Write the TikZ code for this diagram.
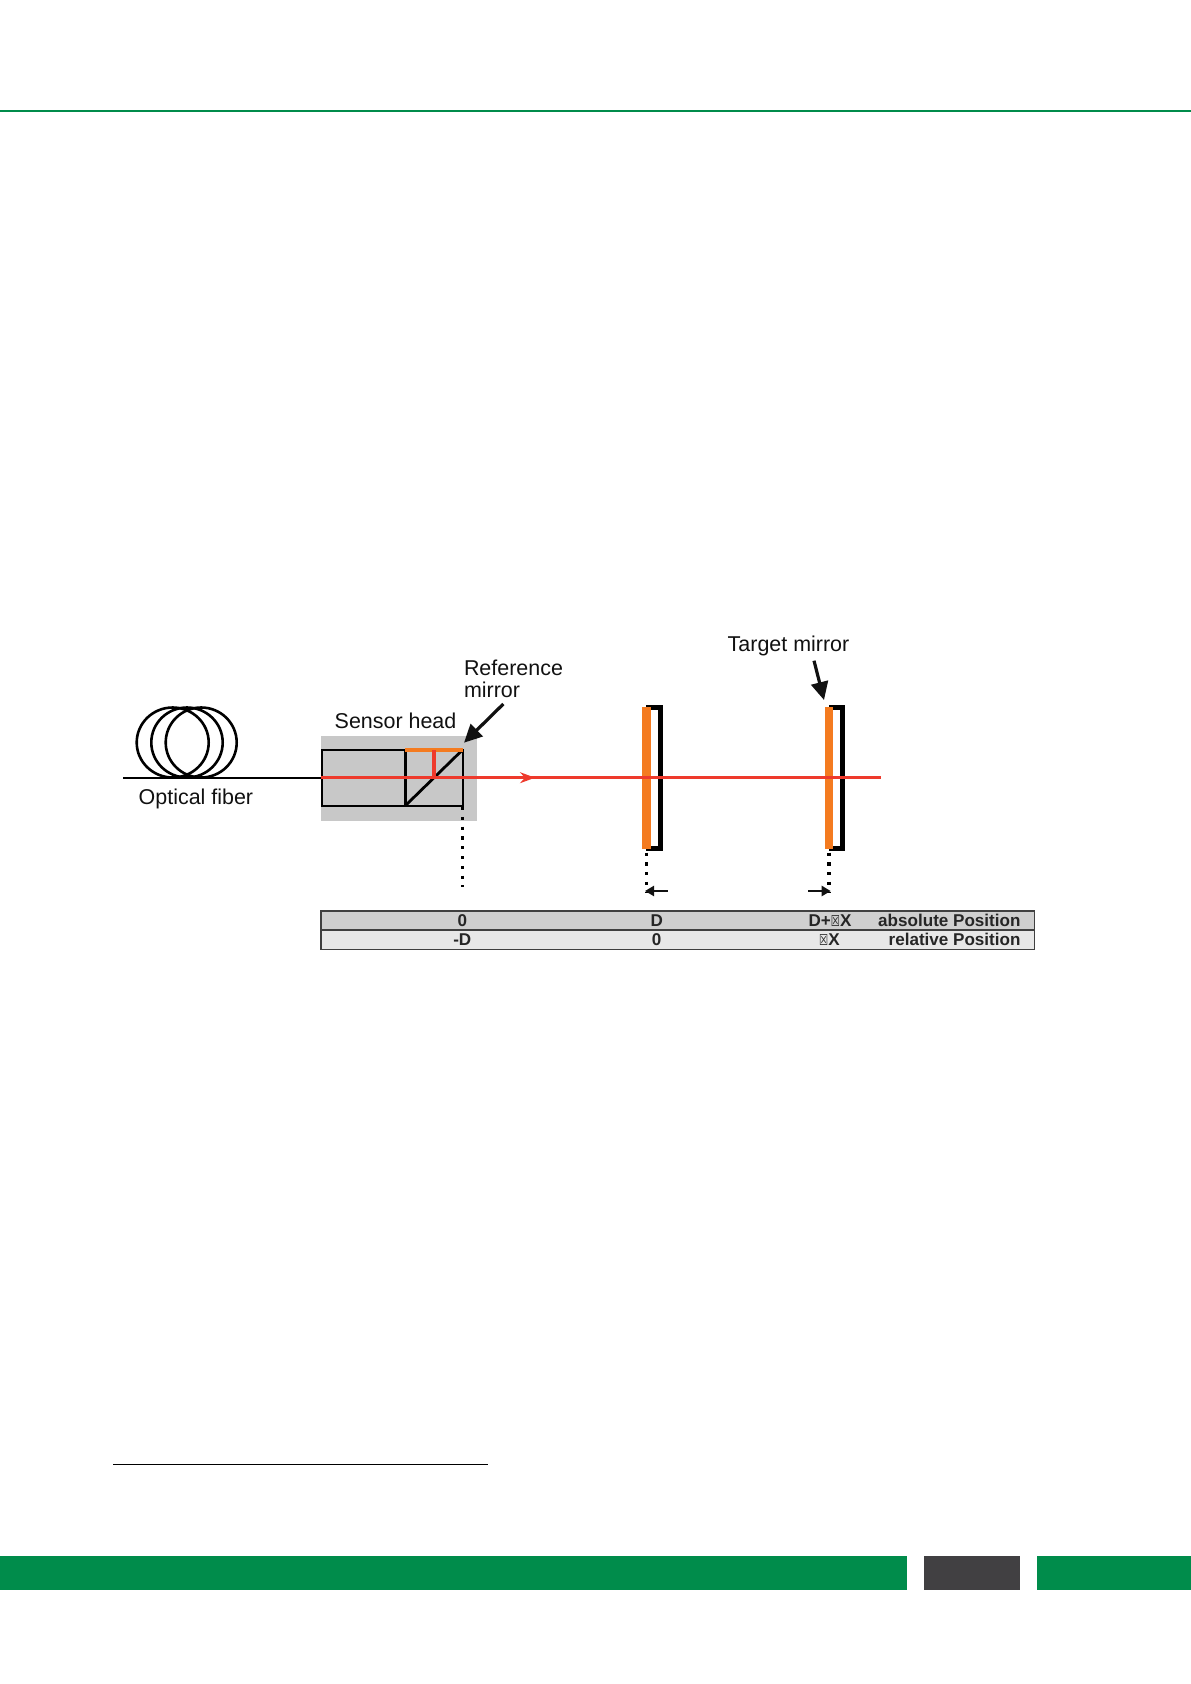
\documentclass[tikz,border=0pt]{standalone}
\usepackage{fontspec}
\setmainfont{Liberation Sans}
\newfontfamily\symfont{DejaVu Sans}
\usetikzlibrary{arrows.meta}
\definecolor{brandgreen}{HTML}{008C4B}
\definecolor{darkgrey}{HTML}{414042}
\definecolor{beamred}{HTML}{EE3A2C}
\definecolor{mirrororange}{HTML}{F47B20}
\definecolor{headgrey}{HTML}{C8C8C8}
\definecolor{rowone}{HTML}{CFCFCF}
\definecolor{rowtwo}{HTML}{E8E8E8}
\definecolor{inkblack}{HTML}{111111}
\newcommand{\boxglyph}{{\symfont\fontsize{12}{12}\selectfont\raisebox{-0.8pt}{\scalebox{0.85}[1.25]{☒}}}}
\tikzset{
  x=1pt,y=-1pt,
  label text/.style={anchor=base west,inner sep=0pt,outer sep=0pt,text=inkblack,font=\fontsize{21.45}{22.6}\selectfont},
  cell text/.style={anchor=base,inner sep=0pt,outer sep=0pt,text=black!85,font=\bfseries\fontsize{17.07}{17.07}\selectfont},
  row text/.style={cell text,anchor=base east},
  black line/.style={draw=black,line width=2.4pt},
  coil/.style={draw=black,line width=2.6pt},
  beam/.style={draw=beamred,line width=3.4pt},
  orange bar/.style={draw=mirrororange,line cap=butt},
  bracket/.style={draw=black,line width=4.8pt,line join=miter},
  drop line/.style={draw=black,line width=3.2pt,dash pattern=on 3.2pt off 6.6pt},
  call arrow/.style={draw=inkblack,line width=3.2pt,-{Triangle[length=18pt,width=17pt]}},
  small arrow/.style={draw=inkblack,line width=2.4pt,-{Triangle[length=9pt,width=10pt]}},
  row box/.style={draw=black!75,line width=1.6pt}
}
\begin{document}
\begin{tikzpicture}
\useasboundingbox (0,0) rectangle (1191,1684);
\fill[white] (0,0) rectangle (1191,1684);
% page furniture
\fill[brandgreen] (0,109.8) rectangle (1191,112.2);
\fill[brandgreen] (0,1556) rectangle (906.7,1589.7);
\fill[darkgrey] (924,1556) rectangle (1020,1589.7);
\fill[brandgreen] (1037,1556) rectangle (1191,1589.7);
\draw[black,line width=1.4pt] (113,1464.3) -- (488,1464.3);
% coordinates
\coordinate (fiberL) at (123.3,777.7);
\coordinate (headL) at (321,777.7);
\coordinate (beamMid) at (535,777.7);
\coordinate (beamEnd) at (881,777.7);
\coordinate (splitT) at (434.3,750);
\coordinate (splitB) at (434.3,777.7);
\coordinate (cubeBL) at (405.3,805.7);
\coordinate (cubeTL) at (405.3,749.7);
\coordinate (cubeTR) at (462.7,749.7);
\coordinate (cubeBR) at (462.7,805.7);
\coordinate (refFrom) at (503.3,704);
\coordinate (refTip) at (464,742.7);
\coordinate (tgtFrom) at (814,660.7);
\coordinate (tgtTip) at (824,700);
% sensor head
\fill[headgrey] (321,735.7) rectangle (476.7,821);
\draw[black line] (321.7,749.7) rectangle (405.3,805.7);
\draw[black line] (cubeTL) rectangle (cubeBR);
\draw[black line,line width=3pt] (cubeTL) -- (cubeBL);
\draw[black line,line width=2.8pt] (cubeBL) -- (cubeTR);
\draw[orange bar,line width=4.4pt] (cubeTL) -- (cubeTR);
% fiber coil
\draw[coil] (172.7,742.5) ellipse [x radius=36,y radius=35];
\draw[coil] (187,742.5) ellipse [x radius=35.7,y radius=35];
\draw[coil] (201.2,742.5) ellipse [x radius=35.5,y radius=35];
\draw[black,line width=2.2pt] (fiberL) -- (headL);
% mirrors
\draw[bracket] (646,707.2) -- (660.8,707.2) -- (660.8,848.8) -- (646,848.8);
\draw[bracket] (829,707.2) -- (842.7,707.2) -- (842.7,848.8) -- (829,848.8);
\fill[mirrororange] (642.2,706.7) rectangle (651.3,849.3);
\fill[mirrororange] (824.6,706.7) rectangle (833,849.3);
% beam
\draw[beam,line width=4.2pt] (splitT) -- (splitB);
\draw[beam] (headL) -- (beamEnd);
\draw[draw=beamred,line width=1.5pt,-{Stealth[length=15pt,width=11pt]}] (headL) -- (beamMid);
% drops
\coordinate (dropA) at (462.7,807);
\coordinate (dropAe) at (462.7,887);
\coordinate (dropB) at (646.7,852.5);
\coordinate (dropBe) at (646.7,892);
\coordinate (dropC) at (829,852.5);
\coordinate (dropCe) at (829,892);
\draw[drop line] (dropA) -- (dropAe);
\draw[drop line] (dropB) -- (dropBe);
\draw[drop line] (dropC) -- (dropCe);
% arrows
\draw[call arrow] (refFrom) -- (refTip);
\draw[call arrow] (tgtFrom) -- (tgtTip);
\coordinate (moveAfrom) at (667.7,891);
\coordinate (moveAto) at (645,891);
\coordinate (moveBfrom) at (808.3,891);
\coordinate (moveBto) at (830.7,891);
\draw[small arrow] (moveAfrom) -- (moveAto);
\draw[small arrow] (moveBfrom) -- (moveBto);
% labels
\node[label text] (sensorLabel) at (334.7,728.7) {Sensor head};
\node[label text] (refLabelA) at (464,675.3) {Reference};
\node[label text] (refLabelB) at (464,697.2) {mirror};
\node[label text] (targetLabel) at (727.7,651.4) {Target mirror};
\node[label text] (fiberLabel) at (138.7,804) {Optical fiber};
% table
\filldraw[row box,fill=rowone] (321,910.7) rectangle (1034.3,930);
\filldraw[row box,fill=rowtwo] (321,930) rectangle (1034.3,949.3);
\node[cell text] (absZero) at (462.3,926) {0};
\node[cell text] (absD) at (656.7,926) {D};
\node[cell text] (absDX) at (830,926) {D+\boxglyph X};
\node[row text] (absRow) at (1020.5,926) {absolute Position};
\node[cell text] (relD) at (462.3,945) {-D};
\node[cell text] (relZero) at (656.7,945) {0};
\node[cell text] (relDX) at (829.5,945) {\boxglyph X};
\node[row text] (relRow) at (1020.5,945) {relative Position};
\end{tikzpicture}
\end{document}
